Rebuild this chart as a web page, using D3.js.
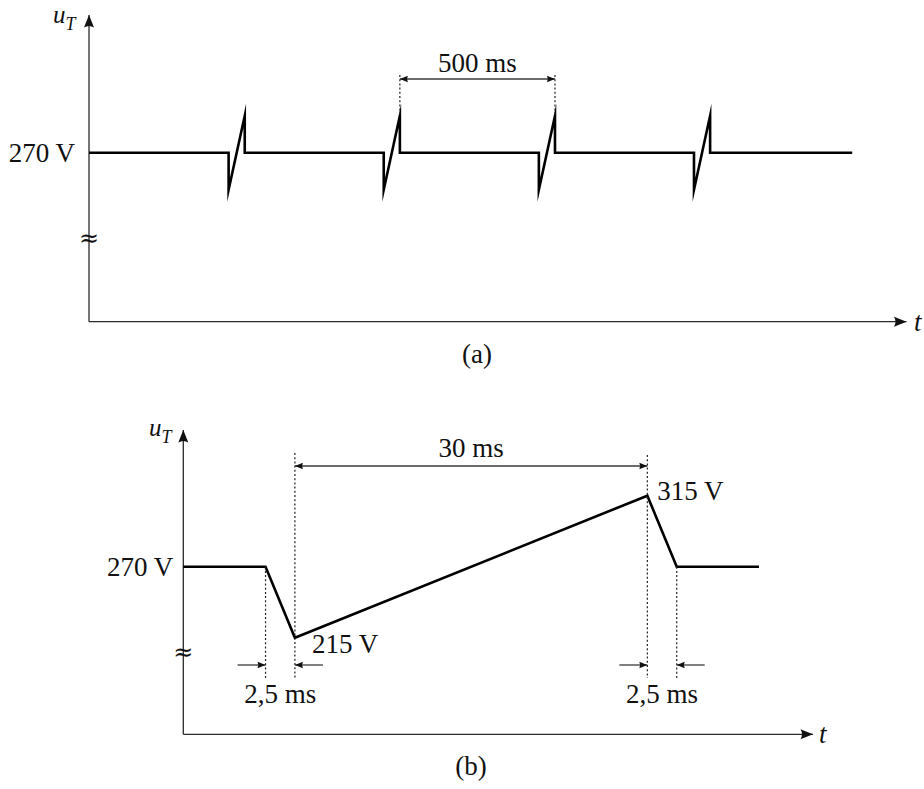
<!DOCTYPE html>
<html>
<head>
<meta charset="utf-8">
<script src="https://cdn.jsdelivr.net/npm/d3@7"></script>
<style>
  html, body { margin: 0; padding: 0; background: #fff; }
  svg { display: block; }
</style>
</head>
<body>
<svg id="chart" width="924" height="789"></svg>
<script>
// ---------------- DATA ----------------
// voltage levels (V)
const voltLevels = [215, 270, 315];          // low, nominal, high
const voltLabels = ["215 V", "270 V", "315 V"];

// panel (a): periodic spikes, times in ms
const spikeStartsA = [450, 950, 1450, 1950];
const spikeWidthA = 52;
const traceEndA = 2460;
const axisEndA = 2635;
const periodA = 500;
const periodLabelA = "500 ms";

// panel (b): single transient, times in ms
const keyTimesB = [0, 7, 9.5, 39.5, 42, 49];
const keyVoltsB = [270, 270, 215, 315, 270, 270];
const axisEndB = 53.6;
const spanLabelsB = ["2,5 ms", "30 ms", "2,5 ms"];

const panelLabels = ["(a)", "(b)"];
const axisNames = { y: "u", ySub: "T", x: "t" };

// ---------------- LAYOUT ----------------
const svg = d3.select("#chart");
const FONT = 27;
const SERIF = "'Liberation Serif', 'Times New Roman', serif";
const AXIS_COLOR = "#2a2a2a";
const DIM_COLOR = "#3a3a3a";

function txt(g, x, y, s, anchor) {
  return g.append("text").attr("x", x).attr("y", y)
    .attr("font-family", SERIF).attr("font-size", FONT).attr("fill", "#111")
    .attr("text-anchor", anchor || "start").text(s);
}

const defs = svg.append("defs");
defs.append("marker")
  .attr("id", "axisArrow").attr("viewBox", "-13 -6 14 12")
  .attr("refX", 0).attr("refY", 0)
  .attr("markerWidth", 14).attr("markerHeight", 12)
  .attr("markerUnits", "userSpaceOnUse").attr("orient", "auto")
  .append("path").attr("d", "M0,0 L-12.5,-5 Q-9.5,0 -12.5,5 Z").attr("fill", "#111");
defs.append("marker")
  .attr("id", "dimArrow").attr("viewBox", "-9 -4 10 8")
  .attr("refX", 0).attr("refY", 0)
  .attr("markerWidth", 10).attr("markerHeight", 8)
  .attr("markerUnits", "userSpaceOnUse").attr("orient", "auto")
  .append("path").attr("d", "M0,0 L-8,-3.3 Q-6.3,0 -8,3.3 Z").attr("fill", "#111");
defs.append("marker")
  .attr("id", "dimArrowStart").attr("viewBox", "-1 -4 10 8")
  .attr("refX", 0).attr("refY", 0)
  .attr("markerWidth", 10).attr("markerHeight", 8)
  .attr("markerUnits", "userSpaceOnUse").attr("orient", "auto")
  .append("path").attr("d", "M0,0 L8,-3.3 Q6.3,0 8,3.3 Z").attr("fill", "#111");

function drawAxes(g, x0, x1, yTop, yBottom, breakY, uLabelPos, tLabelPos) {
  g.append("line").attr("x1", x0).attr("y1", yBottom).attr("x2", x0).attr("y2", yTop)
    .attr("stroke", AXIS_COLOR).attr("stroke-width", 1.3).attr("marker-end", "url(#axisArrow)");
  g.append("line").attr("x1", x0).attr("y1", yBottom).attr("x2", x1).attr("y2", yBottom)
    .attr("stroke", AXIS_COLOR).attr("stroke-width", 1.3).attr("marker-end", "url(#axisArrow)");
  // break symbol
  g.append("text").attr("x", x0).attr("y", breakY + 9).attr("text-anchor", "middle")
    .attr("font-family", "'DejaVu Serif', serif").attr("font-size", 24).attr("fill", "#111")
    .text("≈");
  // u_T
  const u = g.append("text").attr("x", uLabelPos[0]).attr("y", uLabelPos[1])
    .attr("font-family", SERIF).attr("font-size", 25).attr("fill", "#111");
  u.append("tspan").attr("font-style", "italic").text(axisNames.y);
  u.append("tspan").attr("font-style", "italic").attr("font-size", 18).attr("dy", 7).text(axisNames.ySub);
  txt(g, tLabelPos[0], tLabelPos[1], axisNames.x).attr("font-style", "italic");
}

function dotted(g, x, y1, y2) {
  g.append("line").attr("x1", x).attr("x2", x).attr("y1", y1).attr("y2", y2)
    .attr("stroke", "#222").attr("stroke-width", 1.2).attr("stroke-dasharray", "2,2.2");
}

// ======== PANEL (a) ========
(function () {
  const g = svg.append("g");
  const x = d3.scaleLinear().domain([0, axisEndA]).range([89, 906.5]);
  const base = 152.7, amp = 37;
  const y = d3.scaleLinear().domain(voltLevels).range([base + amp, base, base - amp]);
  const yBottom = 321.7, yTop = 15;

  drawAxes(g, x(0), x(axisEndA), yTop, yBottom, 237, [53, 23], [914, 331]);

  // build trace
  const pts = [[0, voltLevels[1]]];
  spikeStartsA.forEach(s => {
    pts.push([s, voltLevels[1]], [s, voltLevels[0]], [s + spikeWidthA, voltLevels[2]], [s + spikeWidthA, voltLevels[1]]);
  });
  pts.push([traceEndA, voltLevels[1]]);
  const line = d3.line().x(d => x(d[0])).y(d => y(d[1]));
  g.append("path").attr("d", line(pts)).attr("fill", "none").attr("stroke", "#000")
    .attr("stroke-width", 2.6).attr("stroke-linejoin", "miter").attr("stroke-miterlimit", 10);

  // 270 V label
  txt(g, x(0) - 14, y(voltLevels[1]) + 9.5, voltLabels[1], "end");

  // period dimension between tops of spike 2 and 3
  const pA = spikeStartsA[1] + spikeWidthA, pB = pA + periodA;
  const dimY = 79;
  dotted(g, x(pA), dimY - 4, y(voltLevels[2]));
  dotted(g, x(pB), dimY - 4, y(voltLevels[2]));
  g.append("line").attr("x1", x(pA)).attr("x2", x(pB)).attr("y1", dimY).attr("y2", dimY)
    .attr("stroke", DIM_COLOR).attr("stroke-width", 1.3)
    .attr("marker-start", "url(#dimArrowStart)").attr("marker-end", "url(#dimArrow)");
  txt(g, (x(pA) + x(pB)) / 2, dimY - 7, periodLabelA, "middle");

  txt(g, 477, 363, panelLabels[0], "middle");
})();

// ======== PANEL (b) ========
(function () {
  const g = svg.append("g");
  const x = d3.scaleLinear().domain([0, axisEndB]).range([183.3, 813]);
  const base = 566.7, amp = 71;
  const y = d3.scaleLinear().domain(voltLevels).range([base + amp, base, base - amp]);
  const yBottom = 734.3, yTop = 430;

  drawAxes(g, x(0), x(axisEndB), yTop, yBottom, 650.5, [149, 436], [819, 743]);

  const pts = keyTimesB.map((t, i) => [t, keyVoltsB[i]]);
  const line = d3.line().x(d => x(d[0])).y(d => y(d[1]));
  g.append("path").attr("d", line(pts)).attr("fill", "none").attr("stroke", "#000")
    .attr("stroke-width", 2.6).attr("stroke-linejoin", "miter").attr("stroke-miterlimit", 10);

  // labels
  txt(g, x(0) - 10, y(voltLevels[1]) + 9.5, voltLabels[1], "end");
  const iLow = keyVoltsB.indexOf(voltLevels[0]);
  const iHigh = keyVoltsB.indexOf(voltLevels[2]);
  txt(g, x(keyTimesB[iLow]) + 17, y(voltLevels[0]) + 15, voltLabels[0]);
  txt(g, x(keyTimesB[iHigh]) + 10, y(voltLevels[2]) + 4, voltLabels[2]);

  // dotted guides
  const t1 = keyTimesB[1], t2 = keyTimesB[2], t3 = keyTimesB[3], t4 = keyTimesB[4];
  const smallY = 665, bottomDot = 678, topDimY = 466;
  dotted(g, x(t1), y(keyVoltsB[1]), bottomDot);
  dotted(g, x(t2), topDimY - 13, bottomDot);
  dotted(g, x(t3), topDimY - 11, bottomDot);
  dotted(g, x(t4), y(keyVoltsB[4]), bottomDot);

  // 30 ms dimension
  g.append("line").attr("x1", x(t2)).attr("x2", x(t3)).attr("y1", topDimY).attr("y2", topDimY)
    .attr("stroke", DIM_COLOR).attr("stroke-width", 1.3)
    .attr("marker-start", "url(#dimArrowStart)").attr("marker-end", "url(#dimArrow)");
  txt(g, (x(t2) + x(t3)) / 2, topDimY - 9, spanLabelsB[1], "middle");

  // 2,5 ms pointers (outside arrows)
  function pointers(xa, xb, label) {
    g.append("line").attr("x1", xa - 28).attr("x2", xa).attr("y1", smallY).attr("y2", smallY)
      .attr("stroke", DIM_COLOR).attr("stroke-width", 1.3).attr("marker-end", "url(#dimArrow)");
    g.append("line").attr("x1", xb + 28).attr("x2", xb).attr("y1", smallY).attr("y2", smallY)
      .attr("stroke", DIM_COLOR).attr("stroke-width", 1.3).attr("marker-end", "url(#dimArrow)");
    txt(g, (xa + xb) / 2, 703, label, "middle");
  }
  pointers(x(t1), x(t2), spanLabelsB[0]);
  pointers(x(t3), x(t4), spanLabelsB[2]);

  txt(g, 471, 775, panelLabels[1], "middle");
})();
</script>
</body>
</html>
